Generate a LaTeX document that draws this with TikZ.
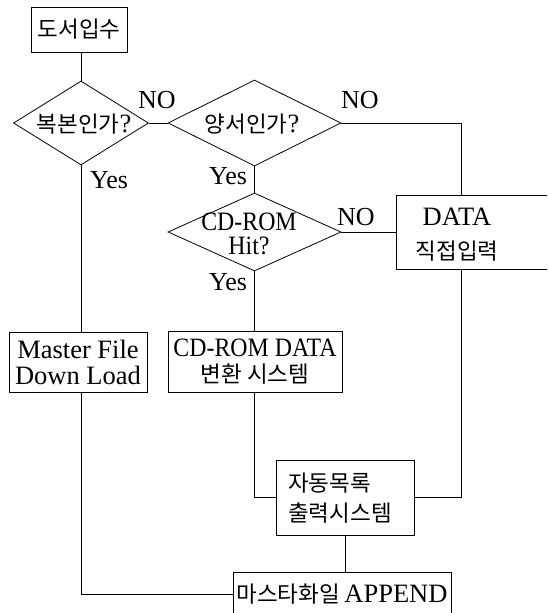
\documentclass[tikz,border=0pt]{standalone}
\usepackage{fontspec}
\setmainfont{Liberation Serif}
\newfontfamily\narrowserif[FakeStretch=0.9]{Liberation Serif}
\newfontfamily\kr{Noto Sans CJK KR}
\usetikzlibrary{shapes.geometric}
\newcommand{\krt}[1]{{\kr\fontsize{22.5}{27}\selectfont #1}}
\begin{document}
\begin{tikzpicture}[x=1pt,y=-1pt, line width=0.8pt,
  box/.style={draw, rectangle, inner sep=0pt, align=center, font=\fontsize{26.5}{26}\selectfont},
  dia/.style={draw, diamond, inner sep=0pt},
  txt/.style={inner sep=0pt, align=center, font=\fontsize{26.5}{26}\selectfont},
  lbl/.style={inner sep=0pt, font=\fontsize{26}{27}\selectfont}]
\useasboundingbox (0,0) rectangle (547,613);
\clip (0,0) rectangle (547,613);

% nodes
\node[box, minimum width=96, minimum height=45] (n1) at (79,29.5) {\krt{도서입수}};
\node[dia, minimum width=135, minimum height=84] (d1) at (81,123) {};
\node[txt] (d1t) at (84,124) {\krt{복본인가}?};
\node[dia, minimum width=173, minimum height=86] (d2) at (254.5,123) {};
\node[txt] (d2t) at (252,124) {\krt{양서인가}?};
\node[dia, minimum width=173, minimum height=78] (d3) at (254.5,232) {};
\node[txt, font=\narrowserif\fontsize{26.5}{24}\selectfont] (d3t) at (249,234) {CD-ROM\\Hit?};
\node[box, minimum width=180, minimum height=74, anchor=west] (data) at (396,232) {};
\node[txt] (datat) at (457,235) {DATA\\[8pt]\krt{직접입력}};
\node[box, minimum width=138, minimum height=60] (master) at (78,362) {Master File\\Down Load};
\node[box, minimum width=174, minimum height=61, font=\narrowserif\fontsize{26.5}{26}\selectfont] (cdrom) at (255,361.5) {CD-ROM DATA\\\krt{변환 시스템}};
\node[box, minimum width=138, minimum height=75] (auto) at (345,497.5) {};
\node[txt, align=left] (autot) at (340,498) {\krt{자동목록}\\[4pt]\krt{출력시스템}};
\node[box, minimum width=218, minimum height=44] (append) at (342,594) {\krt{마스타화일}\,APPEND};
\coordinate (dcol) at (461,0);

% connectors
\draw (n1.south -| d1.north) -- (d1.north);
\draw (d1.east) -- (d2.west);
\draw (d2.east) -| (dcol |- data.north);
\draw (d2.south) -- (d3.north);
\draw (d3.east) -- (data.west);
\draw (d1.south) -- (d1.south |- master.north);
\draw (d3.south) -- (d3.south |- cdrom.north);
\draw (master.south -| d1.south) |- (append.west);
\draw (cdrom.south -| d3.south) |- (auto.west);
\draw (data.south -| dcol) |- (auto.east);
\draw (auto.south) -- (auto.south |- append.north);

% labels
\node[lbl] (no1) at (157,100) {NO};
\node[lbl] (no2) at (360,100) {NO};
\node[lbl] (yes1) at (109,180) {Yes};
\node[lbl] (yes2) at (228,176) {Yes};
\node[lbl] (no3) at (356,217) {NO};
\node[lbl] (yes3) at (228,282) {Yes};
\end{tikzpicture}
\end{document}
